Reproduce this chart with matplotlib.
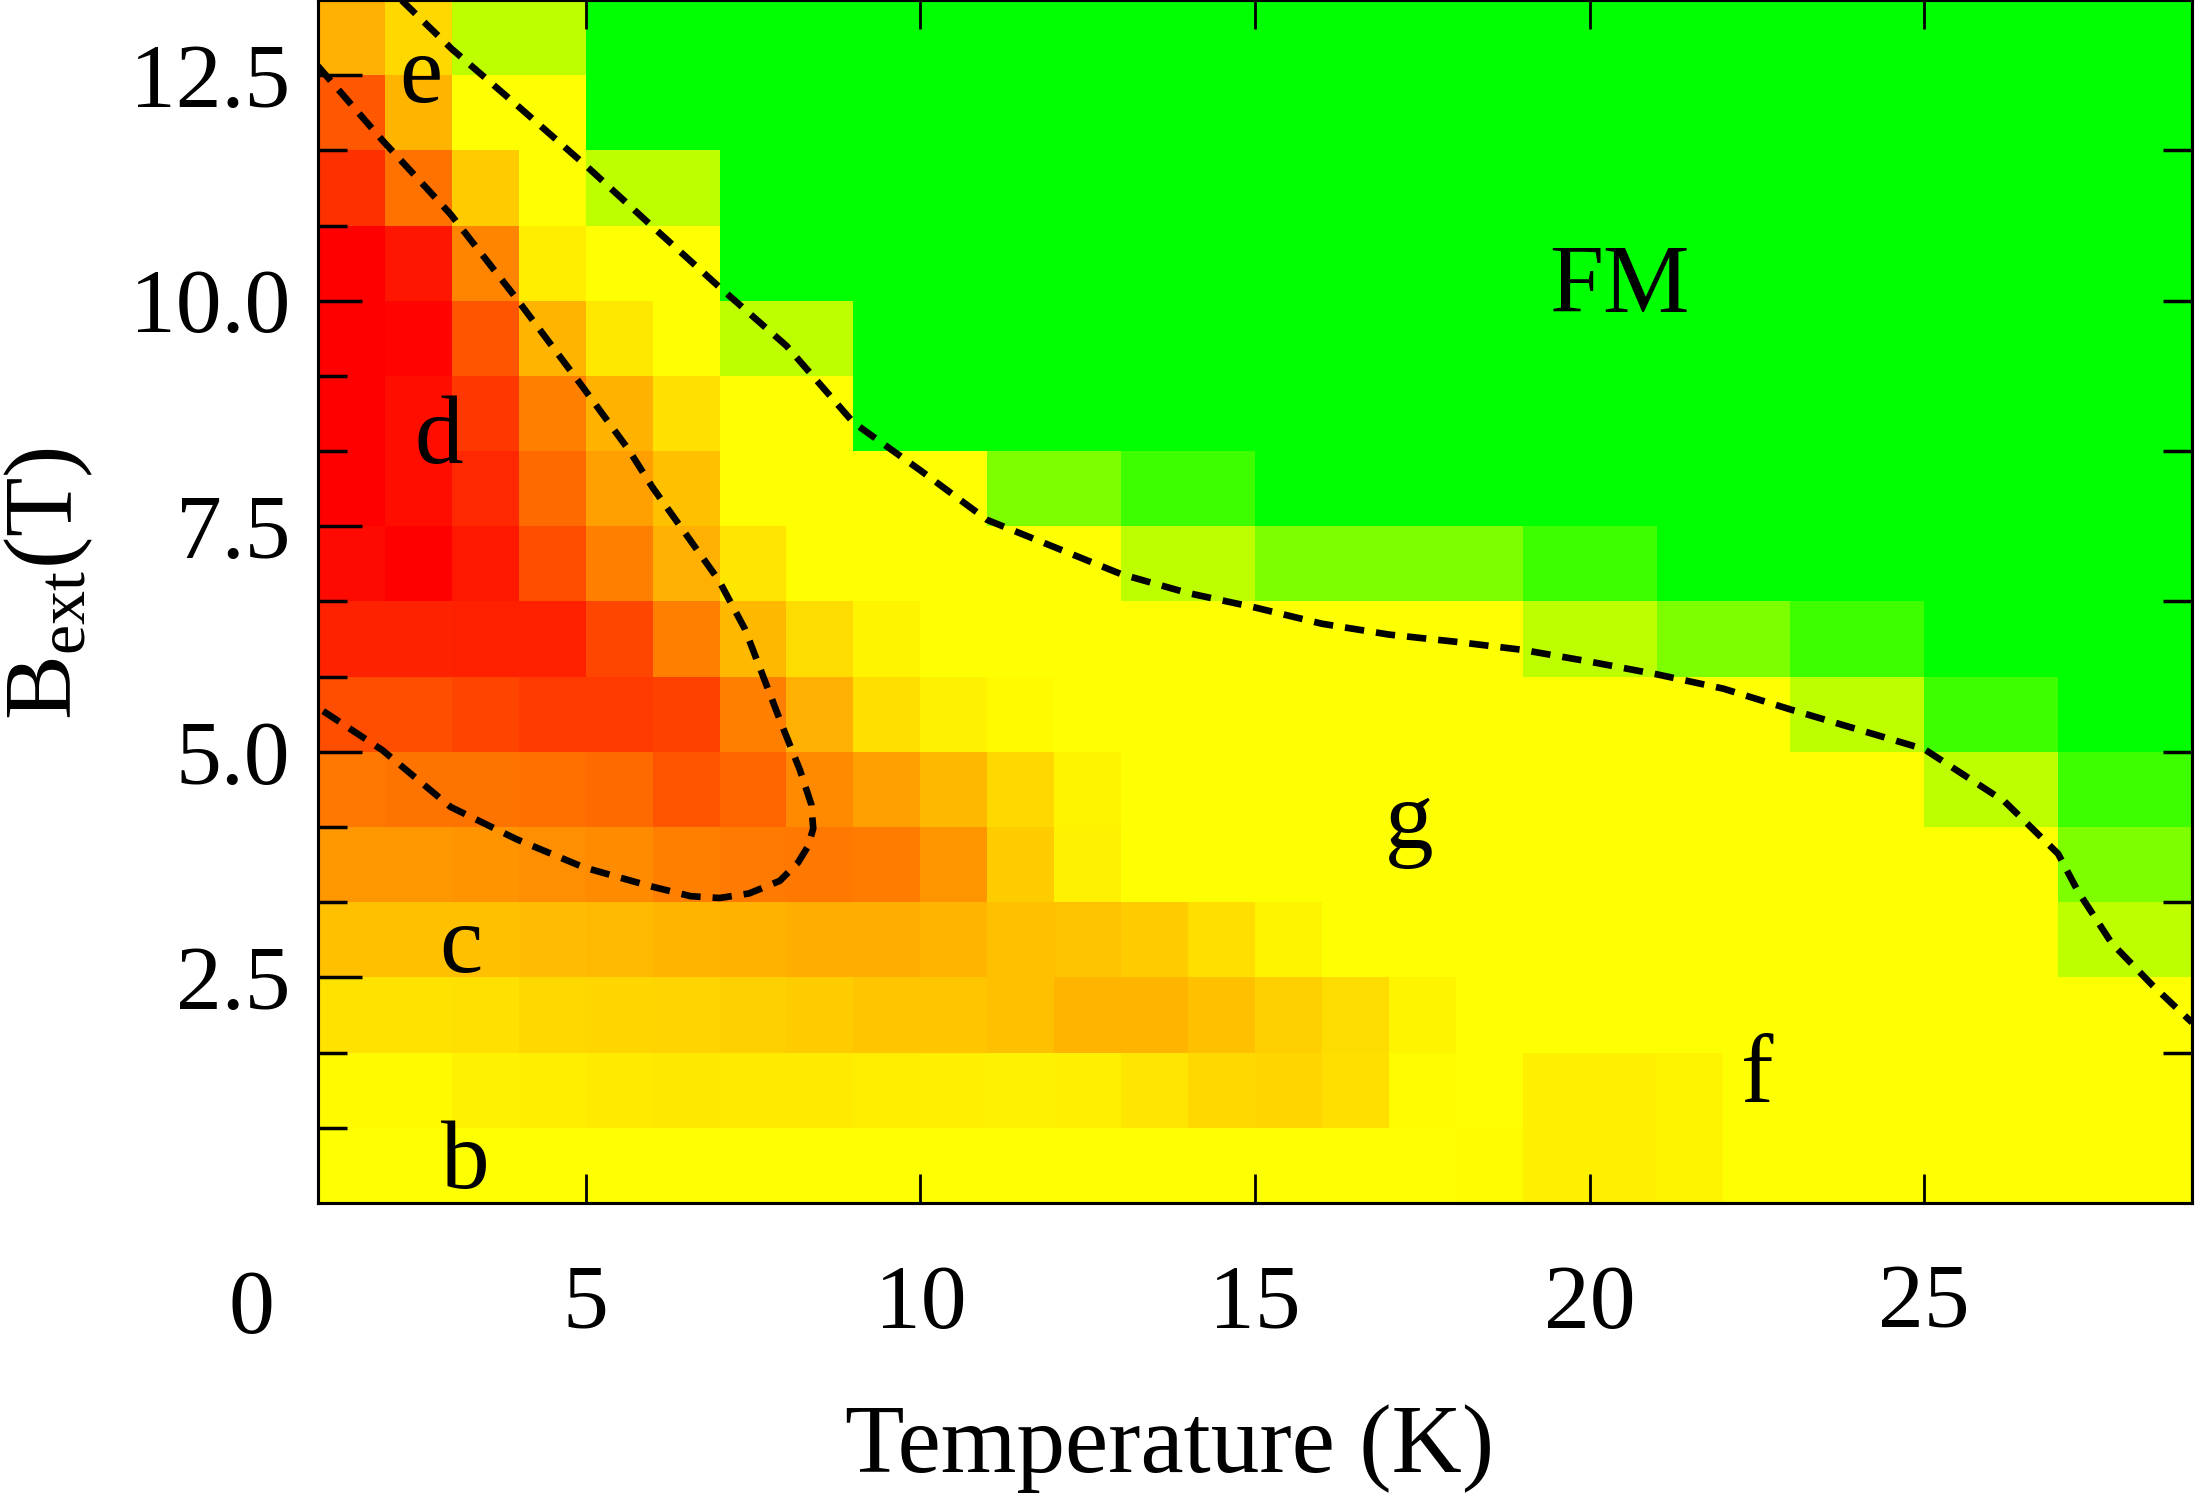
import matplotlib

matplotlib.use("Agg")
import matplotlib.pyplot as plt
from matplotlib.colors import LinearSegmentedColormap

plt.rcParams["font.family"] = ["Liberation Serif", "DejaVu Serif"]
plt.rcParams["mathtext.fontset"] = "custom"
plt.rcParams["mathtext.rm"] = "Liberation Serif"
plt.rcParams["mathtext.it"] = "Liberation Serif:italic"

# measurement grid: 1 K columns, 5/6 T rows
T_EDGES = list(range(1, 30))
B_EDGES = [i * 5 / 6 for i in range(17)]

# phase indicator per cell, 0 = red, 1 = yellow, 2 = green (FM)
# one row per field step, from B = 0 upward; columns T = 1..29 K
PHASE = [
    [1.0] * 17 + [0.99, 0.94, 0.94, 0.96] + [1.0] * 7,
    [0.98, 0.98, 0.95, 0.93, 0.92, 0.91, 0.92, 0.92, 0.93, 0.94, 0.95,
     0.94, 0.90, 0.85, 0.84, 0.87, 0.99, 1.0, 0.94, 0.94, 0.96] + [1.0] * 7,
    [0.89, 0.89, 0.88, 0.85, 0.84, 0.83, 0.82, 0.80, 0.78, 0.78, 0.75,
     0.71, 0.71, 0.75, 0.82, 0.86, 0.96] + [1.0] * 11,
    [0.75, 0.75, 0.75, 0.74, 0.73, 0.71, 0.70, 0.68, 0.68, 0.71, 0.75,
     0.76, 0.80, 0.87, 0.96] + [1.0] * 11 + [1.25, 1.25],
    [0.60, 0.60, 0.58, 0.56, 0.55, 0.50, 0.48, 0.47, 0.49, 0.59, 0.80,
     0.95] + [1.0] * 14 + [1.5, 1.5],
    [0.47, 0.46, 0.46, 0.44, 0.42, 0.33, 0.40, 0.54, 0.63, 0.72, 0.85,
     0.96] + [1.0] * 12 + [1.25, 1.25, 1.75, 1.75],
    [0.31, 0.31, 0.27, 0.23, 0.23, 0.25, 0.50, 0.69, 0.87, 0.95, 0.98]
    + [1.0] * 11 + [1.25, 1.25, 1.75, 1.75, 2.0, 2.0],
    [0.14, 0.14, 0.13, 0.13, 0.28, 0.50, 0.72, 0.86, 0.96] + [1.0] * 9
    + [1.25, 1.25, 1.5, 1.5, 1.75, 1.75] + [2.0] * 4,
    [0.04, 0.0, 0.10, 0.31, 0.50, 0.69, 0.90] + [1.0] * 5 + [1.25, 1.25]
    + [1.5] * 4 + [1.75, 1.75] + [2.0] * 8,
    [0.0, 0.06, 0.16, 0.42, 0.63, 0.75] + [1.0] * 4 + [1.5, 1.5, 1.75, 1.75]
    + [2.0] * 14,
    [0.0, 0.06, 0.22, 0.50, 0.70, 0.88, 1.0, 1.0] + [2.0] * 20,
    [0.0, 0.02, 0.33, 0.71, 0.91, 1.0, 1.25, 1.25] + [2.0] * 20,
    [0.0, 0.09, 0.52, 0.93, 1.0, 1.0] + [2.0] * 22,
    [0.19, 0.45, 0.80, 1.0, 1.25, 1.25] + [2.0] * 22,
    [0.35, 0.71, 1.0, 1.0] + [2.0] * 24,
    [0.69, 0.85, 1.25, 1.25] + [2.0] * 24,
]

# FM boundary (upper dashed line)
UPPER_T = [2.25, 3.0, 4.0, 5.0, 6.0, 7.0, 8.0, 9.0, 10.0, 11.0, 12.0, 13.0,
           14.0, 15.0, 16.0, 17.0, 18.0, 19.0, 20.0, 21.0, 22.0, 23.0, 24.0,
           25.0, 26.2, 27.0, 27.3, 27.8, 28.4, 29.0]
UPPER_B = [13.33, 12.79, 12.15, 11.5, 10.82, 10.15, 9.50, 8.65, 8.12, 7.57,
           7.27, 6.97, 6.76, 6.60, 6.42, 6.30, 6.22, 6.13, 6.00, 5.86, 5.70,
           5.47, 5.25, 5.03, 4.45, 3.87, 3.45, 2.88, 2.42, 2.0]

# boundary of region d (closed loop touching the left axis)
LOOP_T = [1.0, 1.96, 2.98, 3.97, 4.97, 5.64, 6.0, 6.99, 7.38, 7.93, 8.2,
          8.37, 8.4, 8.32, 8.17, 7.9, 7.44, 7.0, 6.57, 5.97, 4.97, 3.97,
          2.98, 1.96, 1.0]
LOOP_B = [12.6, 11.78, 10.96, 10.02, 9.03, 8.35, 7.93, 6.90, 6.36, 5.30,
          4.80, 4.42, 4.15, 3.95, 3.77, 3.57, 3.43, 3.38, 3.40, 3.51, 3.72,
          4.03, 4.39, 5.02, 5.49]

REGION_LABELS = ["e", "d", "c", "b", "FM", "g", "f"]
REGION_T = [2.54, 2.81, 3.14, 3.2, 20.44, 17.3, 22.5]
REGION_B = [12.2, 8.2, 2.56, 0.17, 9.88, 3.93, 1.12]

X_TICKS = [5, 10, 15, 20, 25]
Y_TICKS = [2.5, 5.0, 7.5, 10.0, 12.5]
Y_TICK_LABELS = ["2.5", "5.0", "7.5", "10.0", "12.5"]
RIGHT_TICKS = [5 / 3, 10 / 3, 5.0, 20 / 3, 25 / 3, 10.0, 35 / 3]

cmap = LinearSegmentedColormap.from_list(
    "ryg", [(0.0, "#ff0000"), (0.5, "#ffff00"), (1.0, "#00ff00")])

fig = plt.figure(figsize=(21.99, 14.99), dpi=100)
ax = fig.add_axes([0.1446, 0.1975, 0.8522, 0.8025])
ax.pcolormesh(T_EDGES, B_EDGES, PHASE, cmap=cmap, vmin=0, vmax=2,
              shading="flat")

dash = (0, (2.9, 1.8))
ax.plot(UPPER_T, UPPER_B, color="black", lw=4.8, linestyle=dash)
ax.plot(LOOP_T, LOOP_B, color="black", lw=4.8, linestyle=dash)

for lab, t, b in zip(REGION_LABELS, REGION_T, REGION_B):
    ax.text(t, b, lab, fontsize=70, ha="center", va="baseline")

ax.set_xlim(T_EDGES[0], T_EDGES[-1])
ax.set_ylim(B_EDGES[0], B_EDGES[-1])

ax.set_xticks(X_TICKS)
ax.set_xticklabels([str(v) for v in X_TICKS])
ax.set_yticks(Y_TICKS)
ax.set_yticklabels(Y_TICK_LABELS)
ax.set_yticks(B_EDGES[1:-1], minor=True)
ax.tick_params(axis="x", which="major", direction="in", length=21, width=2,
               top=True, bottom=True, labelsize=66, pad=44)
ax.tick_params(axis="y", which="major", direction="in", length=32, width=2.5,
               left=True, right=False, labelsize=66, pad=20)
ax.tick_params(axis="y", which="minor", direction="in", length=21, width=2.5,
               left=True, right=False)

# "0" sits left of the data range
ax.text(0, -0.055, "0", transform=ax.get_xaxis_transform(), fontsize=66,
        ha="center", va="top", clip_on=False)

ax2 = ax.twinx()
ax2.set_ylim(B_EDGES[0], B_EDGES[-1])
ax2.set_yticks(RIGHT_TICKS)
ax2.tick_params(axis="y", direction="in", length=21, width=2.5,
                labelright=False)

for a in (ax, ax2):
    for sp in a.spines.values():
        sp.set_linewidth(2.2)

ax.set_xlabel("Temperature (K)", fontsize=70)
ax.xaxis.set_label_coords(0.4546, -0.167)
ax.set_ylabel(r"B$_{\mathrm{ext}}$(T)", fontsize=70, va="center")
ax.yaxis.set_label_coords(-0.1435, 0.5146)

fig.savefig("out.png", dpi=100)
